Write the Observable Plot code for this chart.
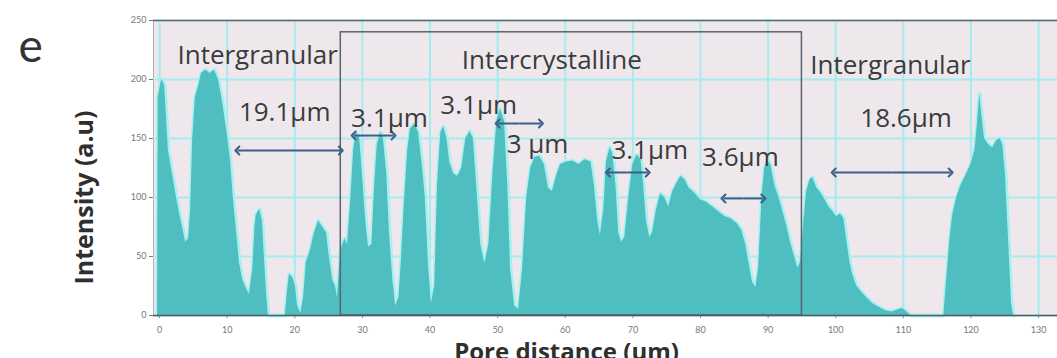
<!DOCTYPE html>
<html>
<head>
<meta charset="utf-8">
<script src="https://cdn.jsdelivr.net/npm/d3@7"></script>
<script src="https://cdn.jsdelivr.net/npm/@observablehq/plot@0.6"></script>
<style>
  html, body { margin: 0; padding: 0; background: #ffffff; }
  #chart { width: 1057px; height: 358px; overflow: hidden; }
</style>
</head>
<body>
<div id="chart"></div>
<script>
// Line profile: pore distance (µm) and intensity (a.u)
const distance = [-0.3,-0.2,0.3,0.75,1.0,1.3,1.9,2.5,3.0,3.4,3.85,4.3,4.6,4.9,5.3,5.8,6.2,6.8,7.5,8.1,8.7,9.2,9.6,10.1,10.5,10.9,11.4,11.8,12.3,12.9,13.3,13.8,14.1,14.3,14.8,15.2,15.5,15.8,16.1,18.6,18.9,19.2,19.7,20.1,20.4,20.9,21.3,21.7,22.3,22.9,23.5,24.1,24.7,25.1,25.6,26.0,26.3,26.8,27.4,27.8,28.3,28.7,29.1,29.6,30.0,30.5,30.9,31.4,31.8,32.2,32.7,33.1,33.6,34.0,34.5,34.9,35.4,35.8,36.2,36.7,37.1,37.7,38.3,38.9,39.3,39.8,40.2,40.7,41.1,41.6,42.0,42.5,42.9,43.5,44.1,44.7,45.3,45.9,46.4,46.9,47.5,48.1,48.7,49.3,49.9,50.4,51.0,51.5,51.9,52.5,53.1,53.7,54.3,54.9,55.5,56.2,56.9,57.5,58.1,58.7,59.3,60.2,61.1,62.0,62.9,63.8,64.3,64.8,65.2,65.7,66.1,66.6,67.0,67.5,67.9,68.3,68.8,69.4,70.0,70.6,71.2,71.6,72.0,72.5,72.9,73.5,74.1,74.7,75.3,75.9,76.5,77.1,77.7,78.3,79.1,80.0,80.9,81.8,82.7,83.6,84.5,85.4,86.1,86.7,87.3,87.7,88.2,88.6,89.1,89.5,89.9,90.4,91.0,91.6,92.2,92.8,93.3,93.9,94.4,94.8,95.3,95.7,96.2,96.6,97.2,97.8,98.4,99.0,99.6,100.1,100.7,101.2,101.6,102.1,102.5,103.1,103.8,104.6,105.5,106.4,107.4,108.4,109.3,109.9,110.5,111.1,116.0,116.4,116.9,117.3,117.9,118.5,119.2,120.0,120.6,121.0,121.3,121.6,122.0,122.6,123.2,123.8,124.3,124.7,125.1,125.6,126.0,126.3];
const intensity = [0,185,200,195,170,140,120,100,85,75,62,65,90,150,185,195,205,208,205,208,200,185,170,150,130,100,70,45,30,22,18,40,75,85,90,80,50,20,0,0,20,35,32,25,8,2,15,45,55,70,80,75,70,50,30,25,15,55,65,60,100,140,155,150,120,80,58,60,110,145,155,150,120,70,30,8,15,50,95,140,158,162,155,125,100,40,10,25,110,155,160,150,130,120,118,125,150,156,150,110,60,44,60,120,165,175,165,110,40,8,5,40,100,125,134,135,128,108,105,118,128,130,131,128,132,130,110,80,68,90,130,142,138,110,70,62,66,100,128,136,132,110,80,66,70,90,103,100,92,105,112,118,115,108,104,98,96,92,88,84,82,78,72,60,40,28,24,40,100,125,131,128,110,100,88,75,62,50,40,45,80,105,115,117,108,104,98,92,88,84,86,82,65,45,35,25,20,15,10,7,4,3,5,6,3,0,0,30,65,85,100,110,118,128,140,165,188,170,150,145,142,148,150,145,120,60,10,0];

// Axis ticks
const xTicks = [0,10,20,30,40,50,60,70,80,90,100,110,120,130];
const yTicks = [0,50,100,150,200,250];

// Region labels
const regionLabels = ["Intergranular","Intercrystalline","Intergranular"];
const regionX = [14.5, 58.0, 108.1];
const regionY = [219.8, 215.6, 212];

// Spacing measurements
const measureLabels = ["19.1μm","3.1μm","3.1μm","3 μm","3.1μm","3.6μm","18.6μm"];
const measureX = [18.5, 34.0, 47.2, 55.9, 72.5, 85.9, 110.4];
const measureY = [171.5, 167, 178, 144.4, 140, 133.4, 167];

// Double arrows
const arrowStart = [11.5, 28.7, 50.0, 66.3, 83.4, 99.7];
const arrowEnd = [26.8, 34.6, 56.4, 72.2, 89.3, 117.0];
const arrowLevel = [139.8, 152.5, 162.7, 121.2, 99.2, 121.2];

// Intercrystalline box
const boxStart = [26.8];
const boxEnd = [95.0];
const boxTop = [240];

// Axis titles
const yTitle = "Intensity (a.u)";
const yTitleLevel = 100;
const xTitle = "Pore distance (um)";
const panelLetter = "e";

const profile = distance.map((d, i) => ({d, v: intensity[i]}));
const regions = regionLabels.map((t, i) => ({t, x: regionX[i], y: regionY[i]}));
const measures = measureLabels.map((t, i) => ({t, x: measureX[i], y: measureY[i]}));
const halfArrows = [];
arrowStart.forEach((s, i) => {
  const mid = (s + arrowEnd[i]) / 2;
  halfArrows.push({x1: mid, x2: s, y: arrowLevel[i]});
  halfArrows.push({x1: mid, x2: arrowEnd[i], y: arrowLevel[i]});
});
const boxes = boxStart.map((s, i) => ({x1: s, x2: boxEnd[i], y2: boxTop[i]}));

const textColor = "#3b3b3b";
const arrowColor = "#3f5d86";
const annFont = "'Open Sans', Lato, sans-serif";

const chart = Plot.plot({
  width: 1057,
  height: 358,
  marginLeft: 153,
  marginRight: 0,
  marginTop: 20,
  marginBottom: 43,
  style: {fontFamily: "Lato, 'Open Sans', sans-serif", fontSize: "9px", color: "#777", background: "#ffffff"},
  x: {domain: [-0.9, 132.8], ticks: xTicks, tickSize: 3, tickPadding: 8, label: null, line: true},
  y: {domain: [0, 250], ticks: yTicks, tickSize: 4, tickPadding: 3, label: null, line: true},
  marks: [
    Plot.frame({fill: "#eee8ec", stroke: "none"}),
    Plot.ruleX(xTicks, {stroke: "#a3ecef", strokeWidth: 2}),
    Plot.ruleY(yTicks, {stroke: "#a3ecef", strokeWidth: 2}),
    Plot.lineY(profile, {x: "d", y: "v", stroke: "#a8f0f0", strokeWidth: 4}),
    Plot.areaY(profile, {x: "d", y: "v", fill: "#4fbec0"}),
    Plot.rect(boxes, {x1: "x1", x2: "x2", y1: 0, y2: "y2", fill: "none", stroke: "#5b6272", strokeWidth: 1.5}),
    Plot.ruleY([250], {stroke: "#666", strokeWidth: 1.5}),
    Plot.ruleY([0], {stroke: "#4f5a63", strokeWidth: 1.5}),
    Plot.link(halfArrows, {x1: "x1", x2: "x2", y1: "y", y2: "y", stroke: arrowColor, strokeWidth: 2, markerEnd: "arrow"}),
    Plot.text(regions, {x: "x", y: "y", text: "t", fill: textColor, fontSize: 26, fontFamily: annFont}),
    Plot.text(measures, {x: "x", y: "y", text: "t", fill: textColor, fontSize: 26, fontFamily: annFont}),
    Plot.text([panelLetter], {frameAnchor: "top-left", dx: -135, dy: 9, fill: "#333", fontSize: 46, fontFamily: "Lato"}),
    Plot.text([{t: yTitle, y: yTitleLevel}], {frameAnchor: "left", y: "y", text: "t", textAnchor: "middle", dx: -69, rotate: -90, fill: "#2f2f2f", fontSize: 25, fontWeight: "bold", fontFamily: annFont}),
    Plot.text([xTitle], {frameAnchor: "bottom", dx: -39, dy: 44, fill: "#2f2f2f", fontSize: 24, fontWeight: "bold", fontFamily: annFont})
  ]
});
document.getElementById("chart").appendChild(chart);
</script>
</body>
</html>
